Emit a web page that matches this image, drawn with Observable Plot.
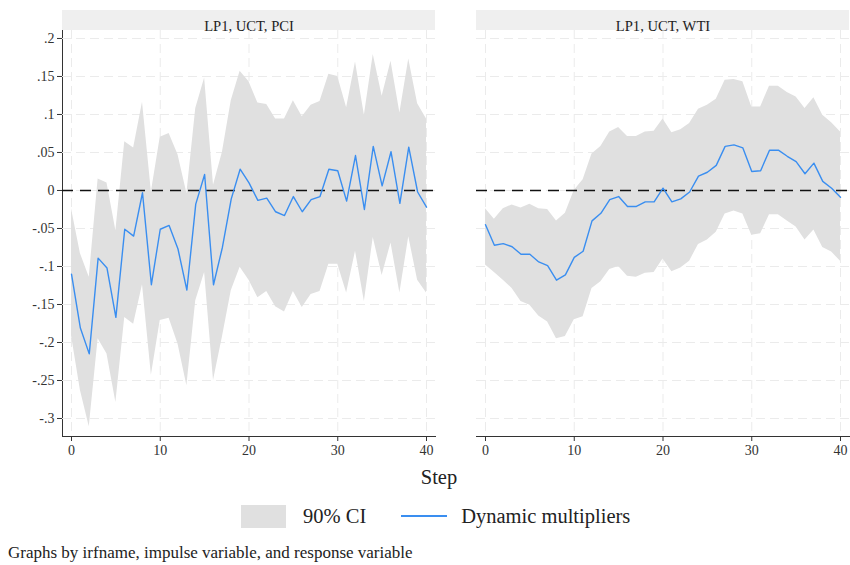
<!DOCTYPE html>
<html>
<head>
<meta charset="utf-8">
<script src="https://cdn.jsdelivr.net/npm/d3@7"></script>
<script src="https://cdn.jsdelivr.net/npm/@observablehq/plot@0.6"></script>
<style>
  html, body { margin: 0; padding: 0; background: #fff; }
  #wrap { position: relative; width: 850px; height: 565px; font-family: "Liberation Serif", "Times New Roman", serif; color: #222; }
  #chart { position: absolute; left: 0; top: 0; }
  .abs { position: absolute; white-space: nowrap; }
</style>
</head>
<body>
<div id="wrap">
  <div id="chart"></div>
  <div class="abs" id="xlabel" style="left:0;width:878px;top:466px;text-align:center;font-size:20.5px;">Step</div>
  <div class="abs" id="legend" style="left:241px;top:503px;height:26px;display:flex;align-items:center;font-size:20.5px;">
    <span style="display:inline-block;width:45px;height:23px;background:#e0e0e0;"></span>
    <span style="margin-left:17px;">90% CI</span>
    <span style="display:inline-block;width:46px;height:0;border-top:2px solid #3a8ef0;margin-left:35px;"></span>
    <span style="margin-left:14px;">Dynamic multipliers</span>
  </div>
  <div class="abs" id="caption" style="left:8px;top:543px;font-size:17px;">Graphs by irfname, impulse variable, and response variable</div>
</div>
<script>
const panels = ["LP1, UCT, PCI", "LP1, UCT, WTI"];
const steps = d3.range(0, 41);
const xTicks = [0, 10, 20, 30, 40];
const yTicks = [0.2, 0.15, 0.1, 0.05, 0, -0.05, -0.1, -0.15, -0.2, -0.25, -0.3];

const pciIRF = [-0.110,-0.181,-0.215,-0.089,-0.102,-0.167,-0.051,-0.060,-0.003,-0.124,-0.051,-0.046,-0.077,-0.131,-0.018,0.021,-0.124,-0.075,-0.011,0.028,0.010,-0.013,-0.010,-0.028,-0.033,-0.008,-0.028,-0.012,-0.008,0.028,0.026,-0.014,0.046,-0.025,0.058,0.006,0.051,-0.017,0.057,-0.002,-0.022];
const pciHi  = [-0.024,-0.083,-0.114,0.015,0.010,-0.053,0.064,0.056,0.116,-0.002,0.070,0.075,0.047,-0.004,0.108,0.148,0.007,0.050,0.118,0.157,0.143,0.115,0.113,0.094,0.094,0.118,0.097,0.112,0.117,0.153,0.150,0.109,0.169,0.099,0.179,0.124,0.170,0.102,0.173,0.114,0.094];
const pciLo  = [-0.191,-0.263,-0.311,-0.195,-0.215,-0.279,-0.167,-0.176,-0.124,-0.243,-0.171,-0.168,-0.202,-0.257,-0.145,-0.108,-0.250,-0.193,-0.132,-0.101,-0.118,-0.141,-0.133,-0.153,-0.160,-0.133,-0.154,-0.137,-0.133,-0.097,-0.097,-0.135,-0.080,-0.146,-0.062,-0.112,-0.069,-0.135,-0.061,-0.118,-0.135];

const wtiIRF = [-0.045,-0.072,-0.070,-0.074,-0.084,-0.084,-0.094,-0.099,-0.118,-0.111,-0.088,-0.080,-0.040,-0.030,-0.012,-0.008,-0.021,-0.021,-0.015,-0.015,0.003,-0.015,-0.011,-0.002,0.019,0.024,0.033,0.058,0.060,0.056,0.025,0.026,0.053,0.053,0.045,0.038,0.022,0.036,0.012,0.003,-0.009];
const wtiHi  = [-0.024,-0.038,-0.024,-0.019,-0.023,-0.018,-0.024,-0.025,-0.040,-0.030,0.000,0.014,0.048,0.058,0.077,0.083,0.071,0.071,0.077,0.078,0.094,0.076,0.080,0.088,0.107,0.112,0.120,0.145,0.146,0.143,0.110,0.110,0.137,0.137,0.129,0.123,0.108,0.122,0.099,0.089,0.077];
const wtiLo  = [-0.098,-0.108,-0.118,-0.129,-0.146,-0.151,-0.165,-0.173,-0.195,-0.192,-0.170,-0.166,-0.129,-0.120,-0.104,-0.100,-0.113,-0.114,-0.109,-0.108,-0.090,-0.107,-0.102,-0.093,-0.071,-0.065,-0.055,-0.031,-0.027,-0.031,-0.059,-0.057,-0.032,-0.032,-0.040,-0.048,-0.065,-0.052,-0.075,-0.081,-0.093];

const series = [
  {panel: panels[0], irf: pciIRF, lo: pciLo, hi: pciHi},
  {panel: panels[1], irf: wtiIRF, lo: wtiLo, hi: wtiHi}
];
const rows = series.flatMap(s => steps.map((t, i) => ({panel: s.panel, step: t, irf: s.irf[i], lo: s.lo[i], hi: s.hi[i]})));

const stataFmt = d => {
  if (Math.abs(d) < 1e-12) return "0";
  const s = String(+Math.abs(d).toFixed(4)).replace(/^0/, "");
  return (d < 0 ? "-" : "") + s;
};

const blue = "#3a8ef0";
const plot = Plot.plot({
  width: 850,
  height: 465,
  marginTop: 30,
  marginBottom: 29,
  marginLeft: 62,
  marginRight: 0,
  style: {fontFamily: "Liberation Serif, Times New Roman, serif", fontSize: "14px", color: "#333", background: "#fff"},
  fx: {domain: panels, paddingInner: 0.0989, paddingOuter: 0, axis: null, label: null},
  x: {domain: [0, 40], insetLeft: 9, insetRight: 9, ticks: xTicks, tickFormat: d => String(d), tickSize: 5, tickPadding: 4, line: true, label: null},
  y: {domain: [-0.3237, 0.2105], ticks: yTicks, tickFormat: stataFmt, tickSize: 5, tickPadding: 3, line: true, label: null},
  marks: [
    Plot.rect([0], {fill: "#efefef", insetTop: -20, insetBottom: 406}),
    Plot.text(panels, {fx: d => d, text: d => d, frameAnchor: "top", dy: -10, fontSize: 14.6, fill: "#222"}),
    Plot.ruleY(yTicks, {stroke: "#ebebeb", strokeWidth: 1, strokeDasharray: "9,5"}),
    Plot.ruleX(xTicks, {stroke: "#ebebeb", strokeWidth: 1, strokeDasharray: "9,5"}),
    Plot.areaY(rows, {fx: "panel", x: "step", y1: "lo", y2: "hi", fill: "#e0e0e0", curve: "linear"}),
    Plot.ruleY([0], {stroke: "#111", strokeWidth: 1.3, strokeDasharray: "11,7"}),
    Plot.lineY(rows, {fx: "panel", x: "step", y: "irf", stroke: blue, strokeWidth: 1.4, curve: "linear"})
  ]
});
document.getElementById("chart").appendChild(plot);
</script>
</body>
</html>
